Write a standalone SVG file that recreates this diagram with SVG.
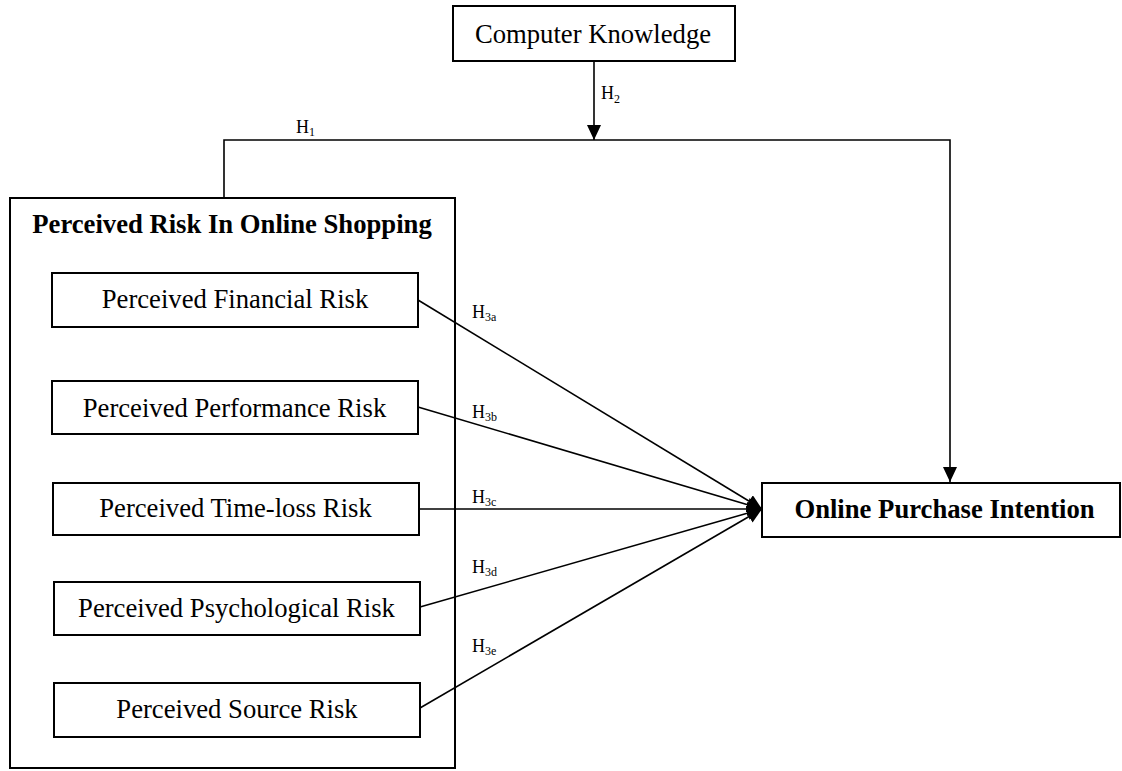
<svg xmlns="http://www.w3.org/2000/svg" width="1122" height="771" viewBox="0 0 1122 771">
<style>
.box{fill:#fff;stroke:#000;stroke-width:2}
.t{font-family:"Liberation Serif","Times New Roman",serif;font-size:26.67px;fill:#000;text-anchor:middle}
.b{font-weight:bold}
.lbl{font-family:"Liberation Serif","Times New Roman",serif;font-size:18px;fill:#000}
.sub{font-size:12px}
.ln{fill:none;stroke:#000;stroke-width:1.6}
</style>
<defs>
<marker id="ah" markerUnits="userSpaceOnUse" markerWidth="16" markerHeight="14" refX="15" refY="7" orient="auto">
<path d="M0,0 L15,7 L0,14 Z" fill="#000"/>
</marker>
</defs>
<rect width="1122" height="771" fill="#fff"/>
<g id="outer">
<rect class="box" x="10" y="198" width="445" height="570"/>
<text class="t b" x="232" y="233">Perceived Risk In Online Shopping</text>
</g>
<g id="ck">
<rect class="box" x="453" y="6" width="282" height="55"/>
<text class="t" x="593" y="43">Computer Knowledge</text>
</g>
<g id="financial">
<rect class="box" x="52" y="273" width="366" height="54"/>
<text class="t" x="235" y="308">Perceived Financial Risk</text>
</g>
<g id="performance">
<rect class="box" x="52" y="381" width="366" height="53"/>
<text class="t" x="234.5" y="417">Perceived Performance Risk</text>
</g>
<g id="timeloss">
<rect class="box" x="53" y="483" width="366" height="52"/>
<text class="t" x="235.5" y="517">Perceived Time-loss Risk</text>
</g>
<g id="psychological">
<rect class="box" x="54" y="582" width="366" height="53"/>
<text class="t" x="236.5" y="617">Perceived Psychological Risk</text>
</g>
<g id="source">
<rect class="box" x="54" y="683" width="366" height="54"/>
<text class="t" x="237" y="718">Perceived Source Risk</text>
</g>
<g id="opi">
<rect class="box" x="762" y="483" width="358" height="54"/>
<text class="t b" x="944.5" y="518">Online Purchase Intention</text>
</g>
<g id="connectors">
<polyline class="ln" points="224,198 224,140 950,140 950,482" marker-end="url(#ah)"/>
<line class="ln" x1="594" y1="61" x2="594" y2="140" marker-end="url(#ah)"/>
<line class="ln" x1="418" y1="300" x2="762" y2="509" marker-end="url(#ah)"/>
<line class="ln" x1="418" y1="407" x2="762" y2="509" marker-end="url(#ah)"/>
<line class="ln" x1="419" y1="509" x2="762" y2="509" marker-end="url(#ah)"/>
<line class="ln" x1="420" y1="607" x2="762" y2="509" marker-end="url(#ah)"/>
<line class="ln" x1="420" y1="708" x2="762" y2="509" marker-end="url(#ah)"/>
</g>
<g id="labels">
<text class="lbl" x="296" y="133">H<tspan class="sub" dy="3">1</tspan></text>
<text class="lbl" x="601" y="99">H<tspan class="sub" dy="4">2</tspan></text>
<text class="lbl" x="472" y="318">H<tspan class="sub" dy="3">3a</tspan></text>
<text class="lbl" x="472" y="418">H<tspan class="sub" dy="3">3b</tspan></text>
<text class="lbl" x="472" y="503">H<tspan class="sub" dy="3">3c</tspan></text>
<text class="lbl" x="472" y="573">H<tspan class="sub" dy="3">3d</tspan></text>
<text class="lbl" x="472" y="652">H<tspan class="sub" dy="3">3e</tspan></text>
</g>
</svg>
